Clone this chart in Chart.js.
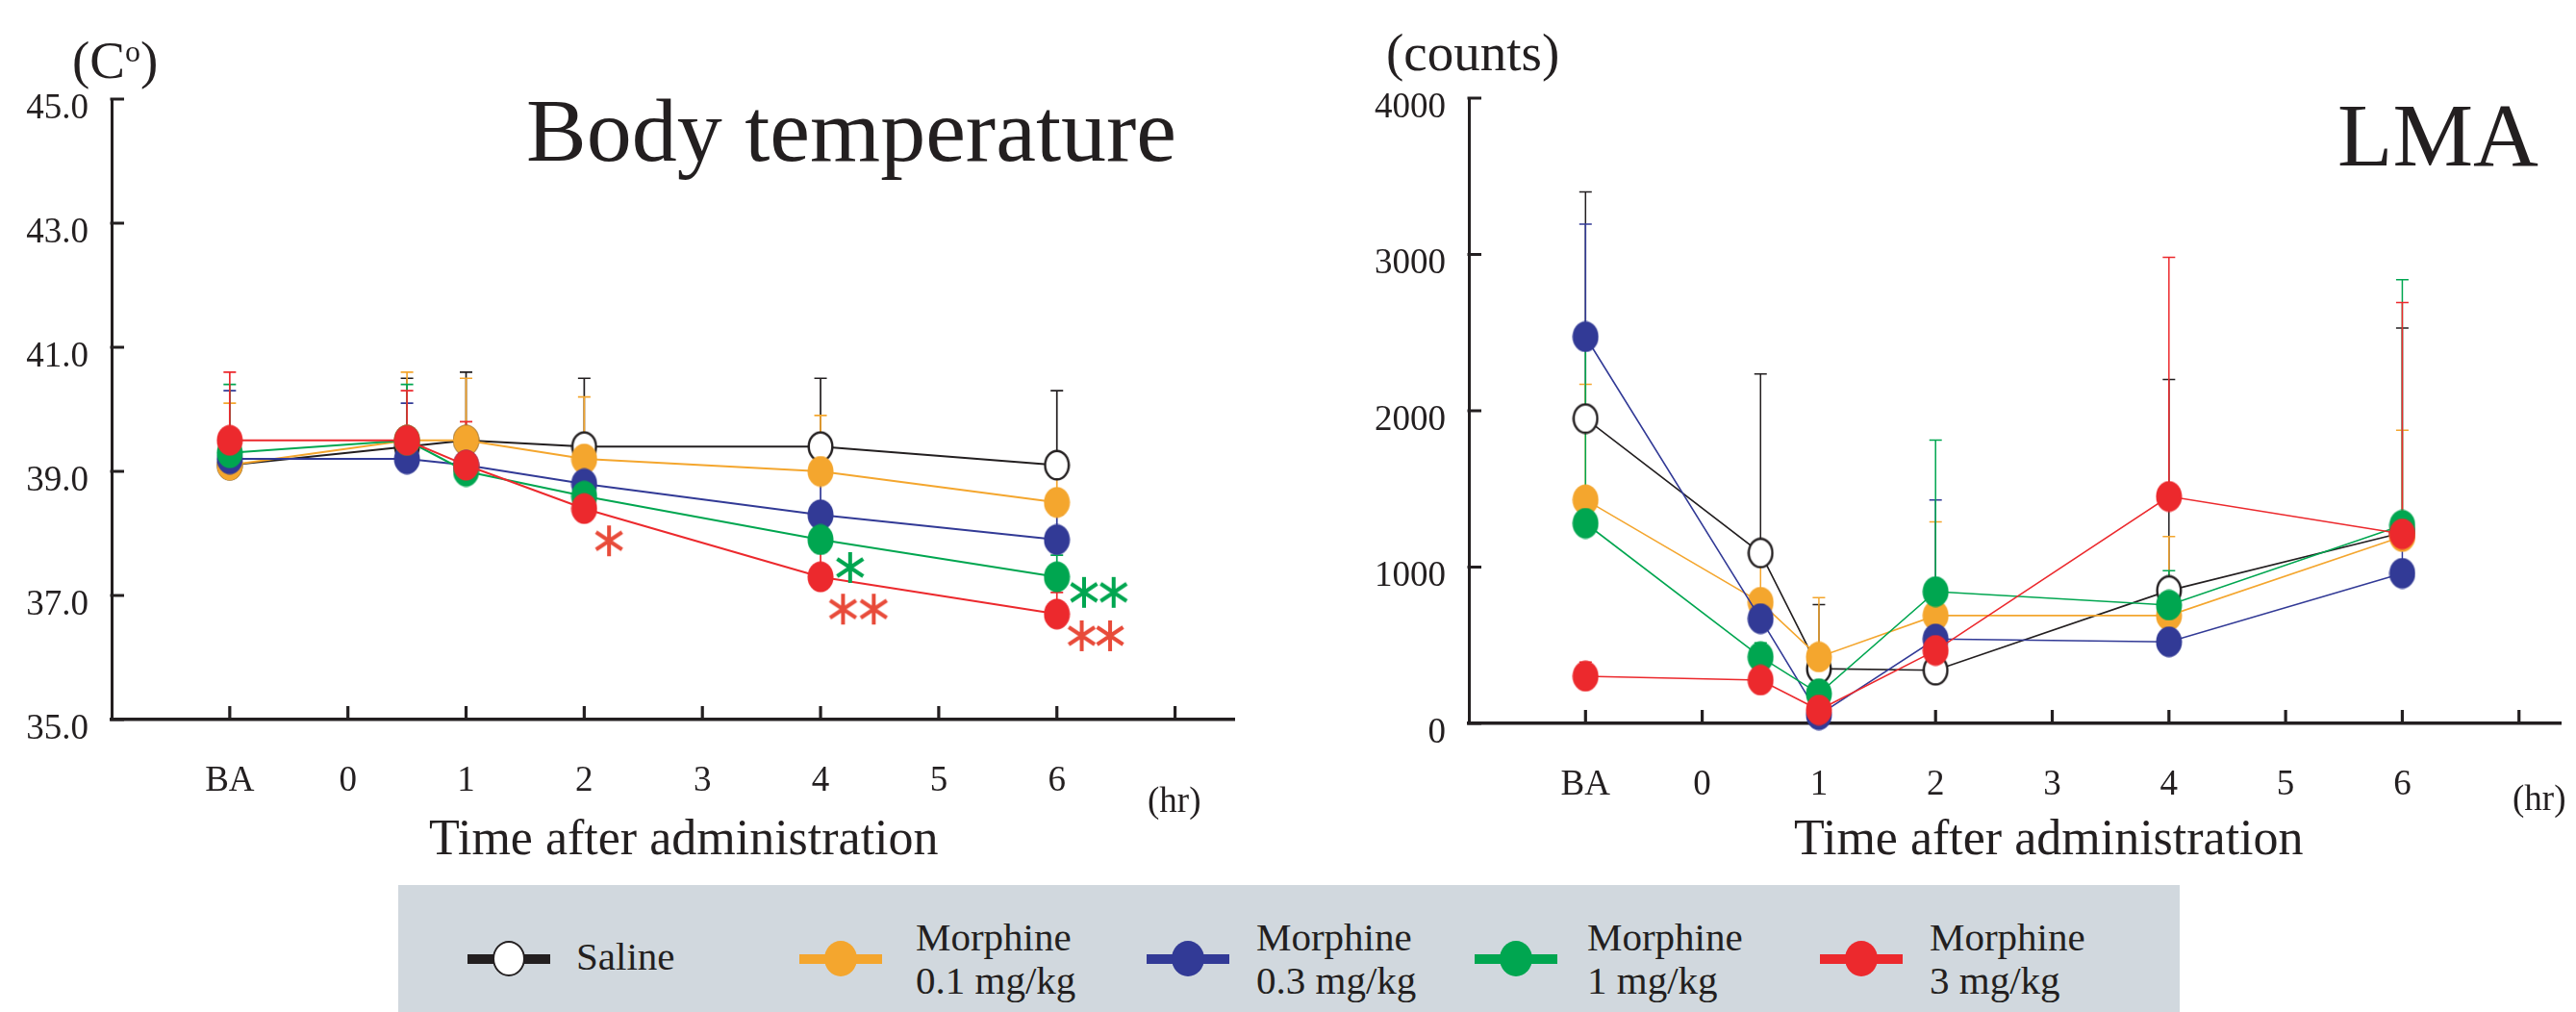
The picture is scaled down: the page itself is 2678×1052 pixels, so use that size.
<!DOCTYPE html>
<html>
<head>
<meta charset="utf-8">
<script src="https://cdn.jsdelivr.net/npm/chart.js@4.4.1/dist/chart.umd.min.js"></script>
<style>
html,body{margin:0;padding:0;background:#fff;}
#wrap{position:relative;width:2678px;height:1052px;overflow:hidden;font-family:'Liberation Serif','Times New Roman',serif;color:#231f20;}
canvas{position:absolute;top:0;}
.t{position:absolute;white-space:nowrap;line-height:1;}
#legendBox{position:absolute;left:414px;top:920px;width:1852px;height:132px;background:#d1d8de;}
.lgLine{position:absolute;height:10px;}
.lgDot{position:absolute;width:34px;height:37px;border-radius:50%;box-sizing:border-box;}
.lgText{position:absolute;font-size:41px;line-height:45px;white-space:nowrap;font-family:'Liberation Serif','Times New Roman',serif;}
</style>
</head>
<body>
<div id="wrap">
  <canvas id="c1" width="1300" height="900" style="left:0px"></canvas>
  <canvas id="c2" width="1328" height="900" style="left:1350px"></canvas>

  <div class="t" style="left:75px;top:35px;font-size:55px;">(C<span style="font-size:32px;position:relative;top:-17px;">o</span>)</div>
  <div class="t" style="left:1441px;top:27px;font-size:55px;">(counts)</div>
  <div class="t" style="left:547px;top:88px;font-size:94px;">Body temperature</div>
  <div class="t" style="left:2430px;top:93px;font-size:94px;">LMA</div>
  <div class="t" style="left:446px;top:845px;font-size:52px;">Time after administration</div>
  <div class="t" style="left:1865px;top:845px;font-size:52px;">Time after administration</div>
  <div class="t" style="left:1193px;top:813px;font-size:37px;">(hr)</div>
  <div class="t" style="left:2612px;top:811px;font-size:37px;">(hr)</div>

  <div id="legendBox"></div>
  <div id="legend"></div>
</div>
<script>
// ---------------- data ----------------
const timePoints  = [-1, 0.5, 1, 2, 4, 6];            // BA, 0.5, 1, 2, 4, 6 hr
const xTickValues = [-1, 0, 1, 2, 3, 4, 5, 6, 7];
const xTickLabels = ['BA', '0', '1', '2', '3', '4', '5', '6', ''];
const tempTickValues = [35, 37, 39, 41, 43, 45];
const lmaTickValues  = [0, 1000, 2000, 3000, 4000];

const seriesNames = ['Saline', 'Morphine 0.1 mg/kg', 'Morphine 0.3 mg/kg', 'Morphine 1 mg/kg', 'Morphine 3 mg/kg'];
const legendLines = [['Saline'], ['Morphine', '0.1 mg/kg'], ['Morphine', '0.3 mg/kg'], ['Morphine', '1 mg/kg'], ['Morphine', '3 mg/kg']];

// Body temperature (°C) mean and SD
const tempSaline    = [39.1, 39.4, 39.5, 39.4, 39.4, 39.1];
const tempSalineSD  = [null, 1.1, 1.1, 1.1, 1.1, 1.2];
const tempM01       = [39.1, 39.5, 39.5, 39.2, 39.0, 38.5];
const tempM01SD     = [1.0, 1.1, 1.0, 1.0, 0.9, 0.5];
const tempM03       = [39.2, 39.2, 39.1, 38.8, 38.3, 37.9];
const tempM03SD     = [1.1, 0.9, 0.3, 0.4, 0.6, 0.4];
const tempM1        = [39.3, 39.5, 39.0, 38.6, 37.9, 37.3];
const tempM1SD      = [1.1, 0.9, 0.3, 0.3, 0.4, 0.35];
const tempM3        = [39.5, 39.5, 39.1, 38.4, 37.3, 36.7];
const tempM3SD      = [1.1, 0.8, 0.7, 0.3, 0.4, 0.35];

// significance asterisks (data coordinates)
const tempStarsM1 = [{x: 4.25, y: 37.45}, {x: 6.23, y: 37.05}, {x: 6.48, y: 37.05}];
const tempStarsM3 = [{x: 2.21, y: 37.88}, {x: 4.19, y: 36.78}, {x: 4.45, y: 36.78}, {x: 6.21, y: 36.35}, {x: 6.45, y: 36.35}];

// LMA (counts) mean and SD
const lmaSaline   = [1950, 1090, 350, 340, 850, 1220];
const lmaSalineSD = [1450, 1145, 410, null, 1350, 1310];
const lmaM01      = [1430, 775, 425, 690, 690, 1195];
const lmaM01SD    = [740, 315, 380, 600, 505, 680];
const lmaM03      = [2474, 670, 55, 540, 522, 960];
const lmaM03SD    = [720, null, null, 890, null, 200];
const lmaM1       = [1280, 425, 190, 843, 757, 1268];
const lmaM1SD     = [1170, 90, null, 970, 220, 1570];
const lmaM3       = [302, 277, 86, 467, 1452, 1212];
const lmaM3SD     = [90, null, null, null, 1530, 1480];

// ---------------- styles ----------------
const INK = '#231f20';
const seriesColors = ['#231f20', '#f4a62e', '#323a96', '#00a650', '#ec292d'];
const seriesFill   = ['#ffffff', '#f4a62e', '#323a96', '#00a650', '#ec292d'];
const starColors   = {green: '#00a650', red: '#e84b3a'};
const FONT = "'Liberation Serif', 'Times New Roman', serif";

function ellipseImg(fill, stroke, w, h, lw) {
  const c = document.createElement('canvas');
  c.width = w; c.height = h;
  const g = c.getContext('2d');
  g.beginPath();
  g.ellipse(w / 2, h / 2, w / 2 - lw / 2 - 0.5, h / 2 - lw / 2 - 0.5, 0, 0, Math.PI * 2);
  g.fillStyle = fill; g.fill();
  if (stroke) { g.lineWidth = lw; g.strokeStyle = stroke; g.stroke(); }
  return c;
}
function asteriskImg(color) {
  const w = 32, h = 34, c = document.createElement('canvas');
  c.width = w; c.height = h;
  const g = c.getContext('2d');
  g.strokeStyle = color; g.lineWidth = 4; g.lineCap = 'butt';
  const cx = w / 2, cy = h / 2, dx = 13.5, dy = 9;
  g.beginPath();
  g.moveTo(cx, 1); g.lineTo(cx, h - 1);
  g.moveTo(cx - dx, cy - dy); g.lineTo(cx + dx, cy + dy);
  g.moveTo(cx - dx, cy + dy); g.lineTo(cx + dx, cy - dy);
  g.stroke();
  return c;
}

const markerImgs = seriesFill.map((f, i) => i === 0 ? ellipseImg('#ffffff', INK, 28, 33, 2.4) : ellipseImg(f, null, 28, 33, 0));

// ---------------- plugins ----------------
const errorBars = {
  id: 'errorBars',
  beforeDatasetsDraw(chart, args, opts) {
    const {ctx, scales: {x, y}} = chart;
    const sets = chart.data.datasets.filter(d => d.sd).sort((a, b) => b.order - a.order);
    sets.forEach(ds => {
      ctx.save();
      ctx.strokeStyle = ds.borderColor;
      ctx.lineWidth = opts.width || 1.6;
      ds.data.forEach((p, j) => {
        const s = ds.sd[j];
        if (s == null) return;
        const px = x.getPixelForValue(p.x);
        const p0 = y.getPixelForValue(p.y);
        const p1 = y.getPixelForValue(p.y + s);
        ctx.beginPath();
        ctx.moveTo(px, p0); ctx.lineTo(px, p1);
        ctx.moveTo(px - 6.5, p1); ctx.lineTo(px + 6.5, p1);
        ctx.stroke();
      });
      ctx.restore();
    });
  }
};
const inwardTicks = {
  id: 'inwardTicks',
  beforeDatasetsDraw(chart) {
    const {ctx, scales: {x, y}} = chart;
    ctx.save();
    ctx.strokeStyle = INK;
    ctx.lineWidth = 3.2;
    x.ticks.forEach(t => {
      const px = x.getPixelForValue(t.value);
      ctx.beginPath(); ctx.moveTo(px, y.bottom); ctx.lineTo(px, y.bottom - 14); ctx.stroke();
    });
    ctx.lineWidth = 3;
    y.ticks.forEach(t => {
      const py = y.getPixelForValue(t.value);
      ctx.beginPath(); ctx.moveTo(x.left - 1.5, py); ctx.lineTo(x.left + 13, py); ctx.stroke();
    });
    ctx.restore();
  }
};

function seriesDataset(i, values, sd, lw) {
  return {
    label: seriesNames[i],
    data: timePoints.map((t, j) => ({x: t, y: values[j]})),
    sd: sd,
    borderColor: seriesColors[i],
    backgroundColor: seriesFill[i],
    borderWidth: lw,
    pointStyle: markerImgs[i],
    pointRadius: 14,
    tension: 0,
    clip: false,
    order: 5 - i
  };
}
function starDataset(points, color) {
  return {
    label: '',
    data: points,
    showLine: false,
    pointStyle: asteriskImg(color),
    pointRadius: 16,
    borderColor: color,
    backgroundColor: color,
    clip: false,
    order: 0
  };
}

function makeChart(id, datasets, cfg) {
  return new Chart(document.getElementById(id), {
    type: 'line',
    data: {datasets: datasets},
    options: {
      responsive: false,
      animation: false,
      devicePixelRatio: 1,
      events: [],
      layout: {padding: {top: cfg.top, right: cfg.right, left: 0, bottom: 0}},
      plugins: {legend: {display: false}, tooltip: {enabled: false}, errorBars: {width: cfg.errW}},
      scales: {
        x: {
          type: 'linear', min: -2, max: cfg.xmax,
          afterBuildTicks(s) { s.ticks = xTickValues.map(v => ({value: v})); },
          afterFit(s) { s.height = cfg.xh; },
          grid: {display: false, drawTicks: false, tickLength: 0},
          border: {display: true, width: 3.5, color: INK},
          ticks: {
            padding: 42, autoSkip: false, maxRotation: 0, color: INK,
            font: {family: FONT, size: 37},
            callback: v => { const k = xTickValues.indexOf(v); return k >= 0 ? xTickLabels[k] : ''; }
          }
        },
        y: {
          type: 'linear', min: cfg.ymin, max: cfg.ymax,
          afterBuildTicks(s) { s.ticks = cfg.yTicks.map(v => ({value: v})); },
          afterFit(s) { s.width = cfg.yw; },
          grid: {display: false, drawTicks: false, tickLength: 0},
          border: {display: true, width: 3, color: INK},
          ticks: {
            padding: 24, labelOffset: 10, color: INK,
            font: {family: FONT, size: 37},
            callback: cfg.yFmt
          }
        }
      }
    },
    plugins: [errorBars, inwardTicks]
  });
}

makeChart('c1', [
  seriesDataset(0, tempSaline, tempSalineSD, 2),
  seriesDataset(1, tempM01, tempM01SD, 2),
  seriesDataset(2, tempM03, tempM03SD, 2),
  seriesDataset(3, tempM1, tempM1SD, 2),
  seriesDataset(4, tempM3, tempM3SD, 2),
  starDataset(tempStarsM1, starColors.green),
  starDataset(tempStarsM3, starColors.red)
], {top: 103, right: 15.5, xh: 152, yw: 116, xmax: 7.5, ymin: 35, ymax: 45, yTicks: tempTickValues, yFmt: v => v.toFixed(1), errW: 1.7});

makeChart('c2', [
  seriesDataset(0, lmaSaline, lmaSalineSD, 1.6),
  seriesDataset(1, lmaM01, lmaM01SD, 1.6),
  seriesDataset(2, lmaM03, lmaM03SD, 1.6),
  seriesDataset(3, lmaM1, lmaM1SD, 1.6),
  seriesDataset(4, lmaM3, lmaM3SD, 1.6)
], {top: 102, right: 0, xh: 148, yw: 177, xmax: 7.36, ymin: 0, ymax: 4000, yTicks: lmaTickValues, yFmt: v => String(v), errW: 1.5});

// ---------------- legend (HTML) ----------------
const legendMarkerX = [529, 874, 1235, 1576, 1935];
const legendTextX   = [599, 952, 1306, 1650, 2006];
const lg = document.getElementById('legend');
legendLines.forEach((lines, i) => {
  const line = document.createElement('div');
  line.className = 'lgLine';
  line.style.cssText = `left:${legendMarkerX[i] - 43}px;top:992px;width:86px;background:${seriesColors[i]};`;
  lg.appendChild(line);
  const dot = document.createElement('div');
  dot.className = 'lgDot';
  dot.style.cssText = `left:${legendMarkerX[i] - 17}px;top:978px;background:${seriesFill[i]};` + (i === 0 ? `border:2.5px solid ${INK};` : '');
  lg.appendChild(dot);
  const txt = document.createElement('div');
  txt.className = 'lgText';
  txt.style.left = legendTextX[i] + 'px';
  txt.style.top = (lines.length === 1 ? 972 : 952) + 'px';
  txt.innerHTML = lines.join('<br>');
  lg.appendChild(txt);
});
</script>
</body>
</html>
